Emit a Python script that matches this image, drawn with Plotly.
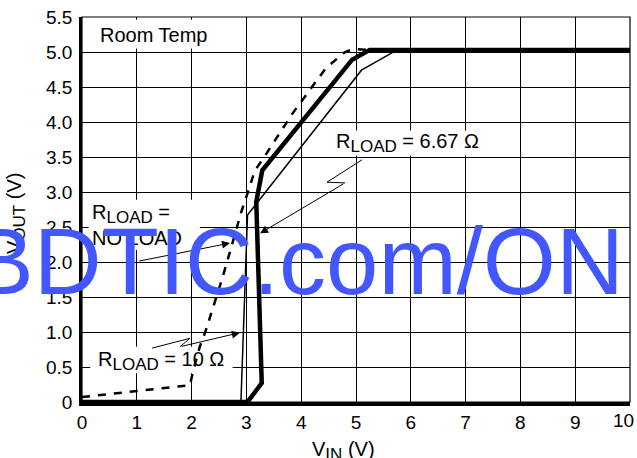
import plotly.graph_objects as go

# ---- data ----
x_ticks = [0, 1, 2, 3, 4, 5, 6, 7, 8, 9, 10]
x_ticktext = ["0", "1", "2", "3", "4", "5", "6", "7", "8", "9", ""]
y_ticks = [0, 0.5, 1.0, 1.5, 2.0, 2.5, 3.0, 3.5, 4.0, 4.5, 5.0, 5.5]
y_ticktext = ["0", "0.5", "1.0", "1.5", "2.0", "2.5", "3.0", "3.5", "4.0", "4.5", "5.0", "5.5"]

# R_LOAD = 6.67 ohm (thick solid)
r667_vin = [0, 3.02, 3.28, 3.18, 3.29, 4.93, 5.25, 10]
r667_vout = [0, 0, 0.27, 2.86, 3.31, 4.89, 5.03, 5.03]

# R_LOAD = 10 ohm (thin solid)
r10_vin = [0, 2.9, 3.02, 5.1, 5.75, 10]
r10_vout = [0, 0, 2.67, 4.74, 5.03, 5.03]

# R_LOAD = no load (dashed)
nl_vin = [0, 1.97, 2.03, 2.15, 2.25, 2.55, 2.72, 2.9, 3.05, 3.15, 3.35, 3.84, 4.45, 4.8, 4.95, 5.3]
nl_vout = [0.07, 0.24, 0.45, 0.79, 1.0, 1.74, 2.2, 2.7, 3.05, 3.3, 3.53, 4.12, 4.77, 5.0, 5.04, 5.03]

# callout leader lines (zig-zag part) and arrow tips
lead667_x = [5.11, 4.47, 4.80]
lead667_y = [3.46, 3.14, 3.13]
tip667 = (3.25, 2.41)
lead10_x = [1.28, 1.97, 1.79]
lead10_y = [0.77, 0.91, 0.79]
tip10 = (2.88, 0.99)
leadnl_x = [1.02]
leadnl_y = [2.01]
tipnl = (2.70, 2.27)

FONT = "Liberation Sans, Arial, sans-serif"
SUB = '<sub><span style="font-size:17px">%s</span></sub>'

fig = go.Figure()

fig.add_trace(go.Scatter(x=nl_vin, y=nl_vout, mode="lines",
                         line=dict(color="black", width=2.5, dash="8px,8px"),
                         hoverinfo="skip", showlegend=False))
fig.add_trace(go.Scatter(x=r10_vin, y=r10_vout, mode="lines",
                         line=dict(color="black", width=1.5),
                         hoverinfo="skip", showlegend=False))
fig.add_trace(go.Scatter(x=r667_vin, y=r667_vout, mode="lines",
                         line=dict(color="black", width=4.5),
                         hoverinfo="skip", showlegend=False))

# leader lines
for lx, ly in [(lead667_x, lead667_y), (lead10_x, lead10_y), (leadnl_x, leadnl_y)]:
    if len(lx) > 1:
        fig.add_trace(go.Scatter(x=lx, y=ly, mode="lines",
                                 line=dict(color="black", width=1),
                                 hoverinfo="skip", showlegend=False))

annotations = []
for (lx, ly), (tx, ty) in [((lead667_x, lead667_y), tip667),
                           ((lead10_x, lead10_y), tip10),
                           ((leadnl_x, leadnl_y), tipnl)]:
    annotations.append(dict(x=tx, y=ty, ax=lx[-1], ay=ly[-1], xref="x", yref="y",
                            axref="x", ayref="y", text="", showarrow=True,
                            arrowhead=2, arrowsize=1.6, arrowwidth=1, arrowcolor="black"))

# white label boxes (above grid, below traces)
boxes = [(0.29, 2.37, 5.05, 5.46), (4.58, 7.32, 3.52, 3.88),
         (0.12, 2.15, 2.17, 2.89), (0.15, 2.75, 0.41, 0.79)]
shapes = []
for x0, x1, y0, y1 in boxes:
    shapes.append(dict(type="rect", xref="x", yref="y", x0=x0, x1=x1, y0=y0, y1=y1,
                       fillcolor="white", line=dict(width=0), layer="between"))
# thin top/right frame
shapes.append(dict(type="rect", xref="paper", yref="paper", x0=0, x1=1, y0=0, y1=1,
                   line=dict(color="black", width=1.2), layer="above"))

lab = dict(xref="x", yref="y", showarrow=False, xanchor="left",
           font=dict(family=FONT, size=20, color="black"), align="left")
annotations += [
    dict(x=0.30, y=5.24, text="Room Temp", **lab),
    dict(x=4.60, y=3.70, text="R" + SUB % "LOAD" + " = 6.67 Ω", **lab),
    dict(x=0.14, y=2.53, text="R" + SUB % "LOAD" + " =<br>NO LOAD", **lab),
    dict(x=0.26, y=0.59, text="R" + SUB % "LOAD" + " = 10 Ω", **lab),
    # last x tick label, kept inside the figure like the reference
    dict(xref="paper", yref="paper", x=(623 - 82) / 548, y=-(420 - 402) / 385,
         xanchor="center", yanchor="middle", showarrow=False, text="10",
         font=dict(family=FONT, size=19, color="black")),
    # axis titles
    dict(xref="paper", yref="paper", x=(343 - 82) / 548, y=-(436 - 402) / 385,
         xanchor="center", yanchor="top", showarrow=False,
         text="V" + SUB % "IN" + " (V)", font=dict(family=FONT, size=20, color="black")),
    dict(xref="paper", yref="paper", x=-(82 - 16) / 548, y=(402 - 214) / 385,
         xanchor="center", yanchor="middle", showarrow=False, textangle=-90,
         text="V" + SUB % "OUT" + " (V)", font=dict(family=FONT, size=20, color="black")),
    # watermark
    dict(xref="paper", yref="paper", x=(626 - 82) / 548, y=(402 - 261) / 385,
         xanchor="right", yanchor="middle", showarrow=False, text="BDTIC.com/ON",
         font=dict(family=FONT, size=94, color="#4257FF")),
]

fig.update_layout(
    width=637, height=458,
    margin=dict(l=82, r=7, t=17, b=56, autoexpand=False),
    paper_bgcolor="white", plot_bgcolor="white",
    font=dict(family=FONT, size=19, color="black"),
    showlegend=False,
    shapes=shapes, annotations=annotations,
    xaxis=dict(range=[0, 10], tickvals=x_ticks, ticktext=x_ticktext,
               showgrid=True, gridcolor="black", gridwidth=1.2, zeroline=False,
               showline=True, linecolor="black", linewidth=3.5, ticks="",
               ticklabelstandoff=0, ticklabeloverflow="allow",
               tickfont=dict(family=FONT, size=19, color="black"),
               automargin=False, fixedrange=True),
    yaxis=dict(range=[0, 5.5], tickvals=y_ticks, ticktext=y_ticktext,
               showgrid=True, gridcolor="black", gridwidth=1.2, zeroline=False,
               showline=True, linecolor="black", linewidth=2.5, ticks="",
               ticklabelstandoff=3, ticklabeloverflow="allow",
               tickfont=dict(family=FONT, size=19, color="black"),
               automargin=False, fixedrange=True),
)

# remove the default 8px page margin so the figure sits at the window's corner
fig.write_html("out.html", config={"displayModeBar": False},
               post_script="document.body.style.margin='0px';")
